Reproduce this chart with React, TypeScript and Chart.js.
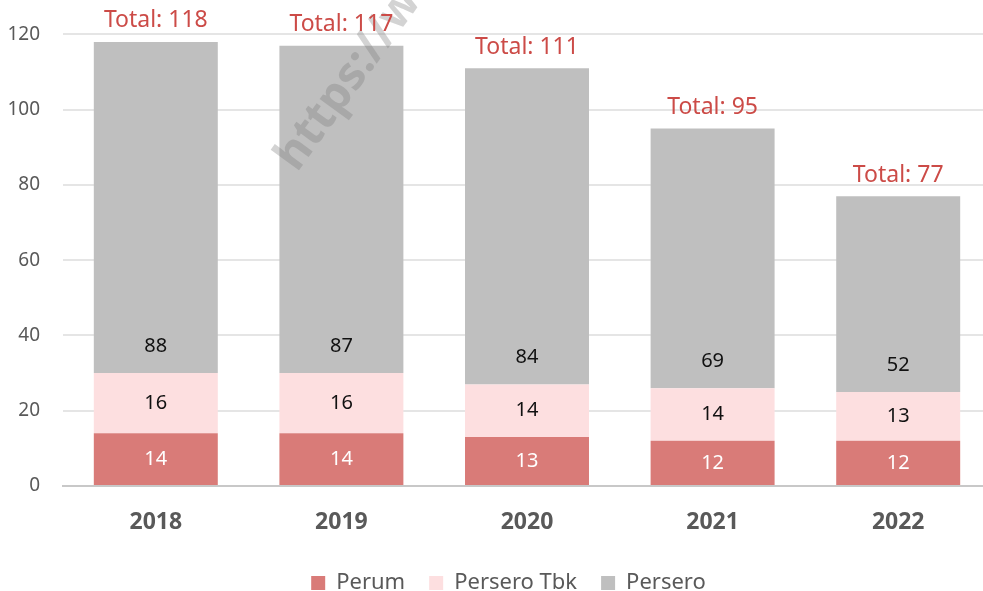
import React, { useEffect, useRef } from "react";
import { Chart, registerables } from "chart.js";

Chart.register(...registerables);

const years = ["2018", "2019", "2020", "2021", "2022"];
const perum = [14, 14, 13, 12, 12];
const perseroTbk = [16, 16, 14, 14, 13];
const persero = [88, 87, 84, 69, 52];
const yTicks = [0, 20, 40, 60, 80, 100, 120];

const FONT = "'Noto Sans', sans-serif";

const labelPlugin = {
  id: "labelPlugin",
  beforeInit(chart: any) {
    const lg = chart.legend;
    if (lg) {
      const origFit = lg.fit.bind(lg);
      lg.fit = function () {
        origFit();
        this.height = 43;
      };
    }
  },
  afterLayout(chart: any) {
    if (chart.legend) chart.legend.left += 26;
  },
  afterDatasetsDraw(chart: any) {
    const ctx = chart.ctx;
    ctx.save();
    // watermark
    ctx.save();
    ctx.translate(297, 173);
    ctx.rotate((-54 * Math.PI) / 180);
    ctx.font = `bold 46px ${FONT}`;
    ctx.fillStyle = "rgba(120,120,120,0.33)";
    ctx.textBaseline = "alphabetic";
    ctx.textAlign = "left";
    ctx.fillText("https://www", 0, 0);
    ctx.restore();

    ctx.textAlign = "center";
    ctx.textBaseline = "middle";
    ctx.font = `20px ${FONT}`;
    const colors = ["#ffffff", "#111111", "#111111"];
    chart.data.datasets.forEach((ds: any, di: number) => {
      const meta = chart.getDatasetMeta(di);
      meta.data.forEach((el: any, i: number) => {
        const v = ds.data[i];
        ctx.fillStyle = colors[di];
        let y;
        if (di === 2) y = el.base - 27;
        else y = (el.y + el.base) / 2;
        ctx.fillText(String(v), el.x, y);
      });
    });
    // totals
    const topMeta = chart.getDatasetMeta(2);
    ctx.font = `23px ${FONT}`;
    ctx.fillStyle = "#cc4b47";
    topMeta.data.forEach((el: any, i: number) => {
      const total = perum[i] + perseroTbk[i] + persero[i];
      ctx.fillText(`Total: ${total}`, el.x, el.y - 21);
    });
    ctx.restore();
  },
};

export default function App() {
  const ref = useRef<HTMLCanvasElement>(null);
  useEffect(() => {
    document.body.style.margin = "0";
    const chart = new Chart(ref.current!, {
      type: "bar",
      data: {
        labels: years,
        datasets: [
          { label: "Perum", data: perum, backgroundColor: "#d97b78" },
          { label: "Persero Tbk", data: perseroTbk, backgroundColor: "#fddfe0" },
          { label: "Persero", data: persero, backgroundColor: "#bfbfbf" },
        ],
      },
      options: {
        animation: false,
        responsive: false,
        layout: { padding: { top: 33, left: 0, right: 0, bottom: 0 } },
        datasets: { bar: { barPercentage: 0.668, categoryPercentage: 1 } },
        scales: {
          x: {
            stacked: true,
            afterFit: (s: any) => {
              s.height = 62;
            },
            grid: { display: false, drawTicks: false },
            border: { color: "#c8c8c8", width: 2 },
            ticks: {
              padding: 23,
              color: "#595959",
              font: { family: FONT, size: 23, weight: "bold" },
            },
          },
          y: {
            stacked: true,
            min: 0,
            max: 120,
            z: 1,
            afterFit: (s: any) => {
              s.width = 63;
            },
            afterBuildTicks: (s: any) => {
              s.ticks = yTicks.map((v) => ({ value: v }));
            },
            border: { display: false },
            grid: { color: "rgba(0,0,0,0.1)", lineWidth: 2, drawTicks: false },
            ticks: {
              padding: 23,
              color: "#595959",
              font: { family: FONT, size: 19 },
            },
          },
        },
        plugins: {
          tooltip: { enabled: false },
          legend: {
            position: "bottom",
            labels: {
              boxWidth: 14,
              boxHeight: 14,
              padding: 24,
              color: "#595959",
              font: { family: FONT, size: 22 },
            },
          },
        },
      },
      plugins: [labelPlugin],
    });
    return () => chart.destroy();
  }, []);
  return (
    <div style={{ width: 983, height: 591, overflow: "hidden" }}>
      <canvas ref={ref} width={991} height={591} style={{ display: "block" }} />
    </div>
  );
}
